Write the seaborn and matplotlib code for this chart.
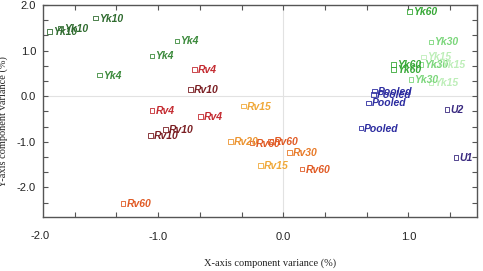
import numpy as np
import pandas as pd
import matplotlib
matplotlib.use('Agg')
import matplotlib.pyplot as plt
import seaborn as sns
from matplotlib.ticker import FixedLocator, MultipleLocator

# Sample labels and their component variances
labels = ['Yk10', 'Yk10', 'Yk10', 'Yk4', 'Yk4', 'Yk4',
          'Rv4', 'Rv4', 'Rv4', 'Rv10', 'Rv10', 'Rv10',
          'Rv15', 'Rv15', 'Rv20', 'Rv60', 'Rv60', 'Rv30', 'Rv60', 'Rv60',
          'Yk60', 'Yk60', 'Yk60', 'Yk30', 'Yk30', 'Yk30',
          'Yk15', 'Yk15', 'Yk15',
          'Pooled', 'Pooled', 'Pooled', 'Pooled', 'U2', 'U1']
x_var = [-1.87, -1.78, -1.50, -1.47, -1.05, -0.85,
         -0.71, -1.05, -0.66, -0.74, -0.94, -1.06,
         -0.32, -0.18, -0.42, -0.25, -0.10, 0.05, 0.15, -1.28,
         1.01, 0.88, 0.88, 1.18, 1.10, 1.02,
         1.12, 1.23, 1.18,
         0.73, 0.72, 0.68, 0.62, 1.31, 1.38]
y_var = [1.41, 1.49, 1.71, 0.46, 0.88, 1.21,
         0.59, -0.31, -0.44, 0.15, -0.73, -0.86,
         -0.22, -1.52, -0.99, -1.03, -0.99, -1.23, -1.60, -2.35,
         1.85, 0.70, 0.59, 1.19, 0.70, 0.37,
         0.86, 0.70, 0.29,
         0.11, 0.04, -0.15, -0.70, -0.29, -1.34]

palette = {'Yk10': '#2f6b2f', 'Yk4': '#3b8a3b', 'Yk60': '#36a836',
           'Yk30': '#7ad67a', 'Yk15': '#bdeeb8',
           'Rv4': '#c42a30', 'Rv10': '#7a1e22', 'Rv15': '#f0a838',
           'Rv20': '#ec9430', 'Rv30': '#e87a28', 'Rv60': '#e05a24',
           'Pooled': '#2c2ca0', 'U2': '#3a2a80', 'U1': '#3a2a80'}

df = pd.DataFrame({'label': labels, 'x': x_var, 'y': y_var})

sns.set_style('white')
plt.rcParams['font.family'] = ['Liberation Sans', 'DejaVu Sans']

fig = plt.figure(figsize=(4.83, 2.71), dpi=100)
ax = fig.add_axes([0.089, 0.199, 0.899, 0.783])

# reference lines through the origin
ax.axhline(0, color='#e2e2e2', lw=0.8, zorder=0)
ax.axvline(0, color='#e2e2e2', lw=0.8, zorder=0)

# open squares: draw with hue, then swap fill for edge colour
sns.scatterplot(data=df, x='x', y='y', hue='label', palette=palette,
                marker='s', s=11, legend=False, ax=ax)
coll = ax.collections[-1]
coll.set_edgecolors(coll.get_facecolors())
coll.set_facecolors('none')
coll.set_linewidths(0.6)

for _, r in df.iterrows():
    ax.annotate(r['label'], (r['x'], r['y']), xytext=(2.5, -0.3),
                textcoords='offset points', va='center', ha='left',
                fontsize=7.5, fontstyle='italic', fontweight='bold',
                color=palette[r['label']])

ax.set_xlim(-1.92, 1.55)
ax.set_ylim(-2.65, 2.0)
ax.xaxis.set_major_locator(FixedLocator([-1.0, 0.0, 1.0]))
ax.yaxis.set_major_locator(FixedLocator([-2.0, -1.0, 0.0, 1.0, 2.0]))
ax.xaxis.set_minor_locator(MultipleLocator(1/3))
ax.yaxis.set_minor_locator(MultipleLocator(1/3))
ax.set_xticklabels(['-1.0', '0.0', '1.0'])
ax.set_yticklabels(['-2.0', '-1.0', '0.0', '1.0', '2.0'])
# the -2.0 label sits just at the left edge of the frame
ax.text(-0.007, -0.065, '-2.0', transform=ax.transAxes, ha='center', va='top',
        fontsize=8, color='#222222')

ax.tick_params(which='both', direction='in', top=True, right=True,
               bottom=True, left=True, length=3.5, width=0.8, color='#555555',
               labelsize=8, labelcolor='#222222')
ax.tick_params(axis='x', which='major', pad=11)
ax.tick_params(axis='y', which='major', pad=5)

for sp in ax.spines.values():
    sp.set_color('#555555')
    sp.set_linewidth(1.0)

ax.set_xlabel('X-axis component variance (%)', family='Liberation Serif',
              fontsize=7.5, color='#222222')
ax.set_ylabel('Y-axis component variance (%)', family='Liberation Serif',
              fontsize=7.5, color='#222222')
ax.xaxis.set_label_coords(0.523, -0.195)
ax.yaxis.set_label_coords(-0.08, 0.45)

fig.savefig('out.png', dpi=100)
